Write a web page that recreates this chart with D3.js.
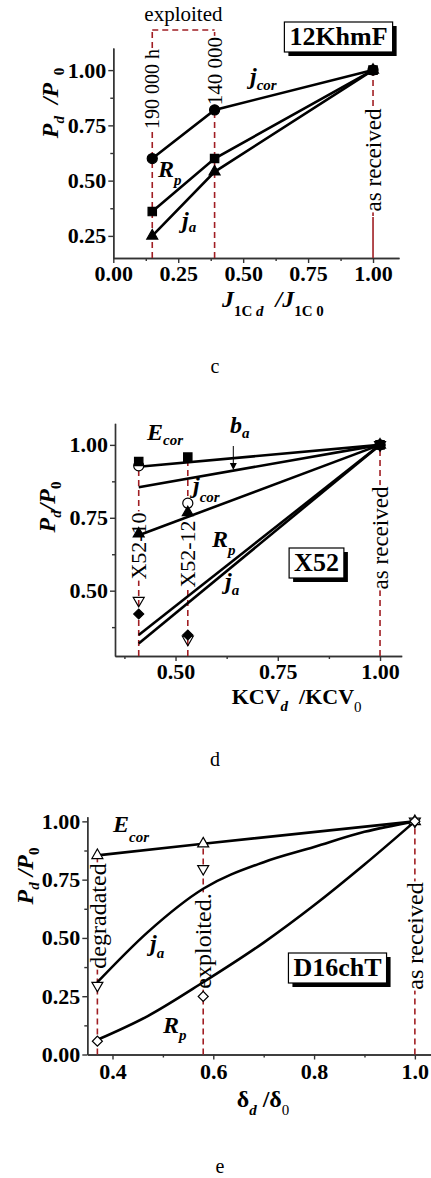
<!DOCTYPE html>
<html>
<head>
<meta charset="utf-8">
<script src="https://cdn.jsdelivr.net/npm/d3@7"></script>
<style>
  body { margin: 0; background: #fff; }
  text { white-space: pre; }
</style>
</head>
<body>
<svg id="chart" width="431" height="1178"></svg>
<script>
const serif = "'Liberation Serif','Times New Roman',serif";
const guideColor = "#a01e23";

// ---- panel c : 12KhmF ----
const cSamples = [0.15, 0.39, 1.00];
const cJcor = [0.60, 0.82, 1.00];
const cRp = [0.36, 0.60, 1.00];
const cJa = [0.25, 0.54, 1.00];
const cXTicks = [0, 0.25, 0.5, 0.75, 1.0];
const cXMinor = [0.125, 0.375, 0.625, 0.875];
const cYTicks = [0.25, 0.5, 0.75, 1.0];
const cYMinor = [0.375, 0.625, 0.875];
const cGuideText = ["190 000 h", "140 000", "as received"];

// ---- panel d : X52 ----
const dSamples = [0.41, 0.53, 1.00];
const dSquares = [0.943, 0.958, 1.00];
const dCircles = [0.928, 0.80, 1.00];
const dTriangles = [0.695, 0.768, 1.00];
const dDownTri = [0.466, 0.333, 1.00];
const dDiamonds = [0.42, 0.348, 1.00];
const dFitX = [0.41, 1.00];
const dFitEcor = [0.925, 1.00];
const dFitBa = [0.855, 1.00];
const dFitJcor = [0.69, 1.00];
const dFitRp = [0.348, 1.00];
const dFitJa = [0.319, 1.00];
const dXTicks = [0.5, 0.75, 1.0];
const dXMinor = [0.375, 0.625, 0.875];
const dYTicks = [0.5, 0.75, 1.0];
const dYMinor = [0.375, 0.625, 0.875];
const dGuideText = ["X52-10", "X52-12", "as received"];

// ---- panel e : D16chT ----
const eSamples = [0.37, 0.58, 1.00];
const eEcor = [0.854, 0.904, 1.00];
const eJa = [0.296, 0.797, 1.00];
const eRp = [0.057, 0.249, 1.00];
const eCurveX = [0.37, 0.47, 0.58, 0.70, 0.80, 0.90, 1.00];
const eJaCurve = [0.31, 0.525, 0.711, 0.825, 0.89, 0.955, 1.00];
const eRpCurve = [0.063, 0.165, 0.31, 0.48, 0.64, 0.815, 1.00];
const eXTicks = [0.4, 0.6, 0.8, 1.0];
const eXMinor = [0.5, 0.7, 0.9];
const eYTicks = [0, 0.25, 0.5, 0.75, 1.0];
const eYMinor = [0.125, 0.375, 0.625, 0.875];
const eGuideText = ["degradated", "exploited.", "as received"];

const svg = d3.select("#chart");

function makePanel(box, xDom, yDom, xt, xm, yt, ym, xFmt, yFmt, xPad) {
  const g = svg.append("g");
  const x = d3.scaleLinear().domain(xDom).range([box.left, box.right]);
  const y = d3.scaleLinear().domain(yDom).range([box.bottom, box.top]);
  const ax = g.append("g");
  ax.append("g").attr("transform", `translate(0,${box.bottom})`)
    .call(d3.axisBottom(x).tickValues(xm).tickSize(3).tickSizeOuter(0).tickFormat(""));
  ax.append("g").attr("transform", `translate(0,${box.bottom})`)
    .call(d3.axisBottom(x).tickValues(xt).tickSize(5).tickSizeOuter(0).tickPadding(xPad).tickFormat(d3.format(xFmt)));
  ax.append("g").attr("transform", `translate(${box.left},0)`)
    .call(d3.axisLeft(y).tickValues(ym).tickSize(3).tickSizeOuter(0).tickFormat(""));
  ax.append("g").attr("transform", `translate(${box.left},0)`)
    .call(d3.axisLeft(y).tickValues(yt).tickSize(5).tickSizeOuter(0).tickPadding(2).tickFormat(d3.format(yFmt)));
  ax.selectAll("path.domain, line").attr("stroke", "#333").attr("stroke-width", 1.4);
  ax.selectAll("text").attr("font-family", serif).attr("font-size", 22)
    .attr("font-weight", "bold").attr("fill", "#000");
  return { g, x, y, box };
}

function guide(p, xv, y0, y1, dashed) {
  p.g.append("line")
    .attr("x1", p.x(xv)).attr("x2", p.x(xv)).attr("y1", y0).attr("y2", y1)
    .attr("stroke", guideColor).attr("stroke-width", 1.6)
    .attr("stroke-dasharray", dashed === false ? null : "6,4");
}

function guideLabel(p, xv, cy, s, size) {
  const wrap = p.g.append("g").attr("transform", `translate(${p.x(xv)},${cy}) rotate(-90)`);
  const bg = wrap.append("rect").attr("fill", "#fff");
  const t = wrap.append("text").attr("text-anchor", "middle").attr("dy", "0.34em")
    .attr("font-family", serif).attr("font-size", size).attr("fill", "#000").text(s);
  const bb = t.node().getBBox();
  bg.attr("x", bb.x - 1).attr("width", bb.width + 2).attr("y", -4).attr("height", 8);
}

function series(p, xs, ys, curve) {
  p.g.append("path")
    .datum(xs.map((v, i) => [v, ys[i]]))
    .attr("d", d3.line().x(d => p.x(d[0])).y(d => p.y(d[1])).curve(curve || d3.curveLinear))
    .attr("fill", "none").attr("stroke", "#000").attr("stroke-width", 2.6);
}

const shapes = {
  circle: [d3.symbolCircle, 80, 0],
  square: [d3.symbolSquare, 70, 0],
  up: [d3.symbolTriangle, 52, 0],
  down: [d3.symbolTriangle, 52, 180],
  diamond: [d3.symbolSquare, 50, 45]
};

function dots(p, xs, ys, kind, fill) {
  const s = shapes[kind];
  p.g.append("g").selectAll("path")
    .data(xs.map((v, i) => [v, ys[i]]))
    .join("path")
    .attr("d", d3.symbol(s[0], s[1]))
    .attr("transform", d => `translate(${p.x(d[0])},${p.y(d[1])}) rotate(${s[2]})`)
    .attr("fill", fill).attr("stroke", "#000").attr("stroke-width", 1.2);
}

// parts: [text, size, style ("b","i"), baseline offset]
function rich(g, x, y, parts, anchor, rotated) {
  const t = g.append("text")
    .attr("transform", `translate(${x},${y})${rotated ? " rotate(-90)" : ""}`)
    .attr("text-anchor", anchor || "start").attr("font-family", serif).attr("fill", "#000");
  let cur = 0;
  parts.forEach(([s, size, style, off]) => {
    off = off || 0;
    t.append("tspan").attr("dy", off - cur).attr("font-size", size)
      .attr("font-weight", style.includes("b") ? "bold" : "normal")
      .attr("font-style", style.includes("i") ? "italic" : "normal")
      .text(s);
    cur = off;
  });
  return t;
}

function symLabel(g, x, y, main, sub, off) {
  rich(g, x, y, [[main, 24, "bi"], [sub, 15, "bi", off]]);
}

function boxLabel(g, cx, baseline, s) {
  const t = g.append("text").attr("x", cx).attr("y", baseline).attr("text-anchor", "middle")
    .attr("font-family", serif).attr("font-size", 26).attr("font-weight", "bold")
    .attr("fill", "#000").text(s);
  const bb = t.node().getBBox();
  g.insert("rect", () => t.node())
    .attr("x", bb.x - 5 + 4).attr("y", bb.y + 4).attr("width", bb.width + 10).attr("height", bb.height + 1)
    .attr("fill", "#000");
  g.insert("rect", () => t.node())
    .attr("x", bb.x - 5).attr("y", bb.y).attr("width", bb.width + 10).attr("height", bb.height + 1)
    .attr("fill", "#fff").attr("stroke", "#000").attr("stroke-width", 1.2);
}

function caption(x, y, s) {
  svg.append("text").attr("x", x).attr("y", y).attr("text-anchor", "middle")
    .attr("font-family", serif).attr("font-size", 20).text(s);
}

// ================= panel c =================
const pc = makePanel({ left: 113.3, right: 399, top: 48, bottom: 258 },
  [0, 1.1], [0.15, 1.1], cXTicks, cXMinor, cYTicks, cYMinor, ".2f", ".2f", 2);
{
  const top = pc.box.top - 18;
  guide(pc, cSamples[0], pc.box.bottom, top);
  guide(pc, cSamples[1], pc.box.bottom, top);
  pc.g.append("line")
    .attr("x1", pc.x(cSamples[0])).attr("x2", pc.x(cSamples[1])).attr("y1", top).attr("y2", top)
    .attr("stroke", guideColor).attr("stroke-width", 1.6).attr("stroke-dasharray", "6,4");
  guide(pc, cSamples[2], pc.y(1.0), pc.y(0.335));
  guide(pc, cSamples[2], pc.y(0.335), pc.box.bottom, false);
  pc.g.append("text").attr("x", (pc.x(cSamples[0]) + pc.x(cSamples[1])) / 2).attr("y", 21)
    .attr("text-anchor", "middle").attr("font-family", serif).attr("font-size", 21).text("exploited");
  guideLabel(pc, cSamples[0], 89, cGuideText[0], 20);
  guideLabel(pc, cSamples[1], 71, cGuideText[1], 21);
  guideLabel(pc, cSamples[2], 160, cGuideText[2], 23);

  series(pc, cSamples, cJcor);
  series(pc, cSamples, cRp);
  series(pc, cSamples, cJa);
  dots(pc, cSamples, cJcor, "circle", "#000");
  dots(pc, cSamples, cRp, "square", "#000");
  dots(pc, cSamples, cJa, "up", "#000");

  symLabel(pc.g, 250, 84, "j", "cor", 6);
  symLabel(pc.g, 158, 177, "R", "p", 8);
  symLabel(pc.g, 182, 228, "j", "a", 4);
  boxLabel(pc.g, 338.5, 45, "12KhmF");

  rich(pc.g, 58, 103, [["P", 24, "bi"], ["d", 15, "bi", 6], ["  /", 24, "bi"], ["P", 24, "bi"], ["  0", 15, "b", 6]], "middle", true);
  rich(pc.g, 222, 307, [["J", 24, "bi"], ["1C", 15, "b", 9], [" d", 15, "bi", 9], ["  /J", 24, "bi"], ["1C 0", 15, "b", 9]]);
  caption(215, 373, "c");
}

// ================= panel d =================
const pd = makePanel({ left: 115, right: 401.7, top: 423.3, bottom: 656 },
  [0.352, 1.053], [0.276, 1.074], dXTicks, dXMinor, dYTicks, dYMinor, ".2f", ".2f", 2);
{
  dSamples.forEach((s, i) => {
    const topVal = d3.max([dSquares[i], dCircles[i], dTriangles[i], dDownTri[i], dDiamonds[i]]);
    guide(pd, s, pd.box.bottom, pd.y(topVal));
  });
  guideLabel(pd, dSamples[0], 546, dGuideText[0], 22);
  guideLabel(pd, dSamples[1], 554, dGuideText[1], 22);
  guideLabel(pd, dSamples[2], 538, dGuideText[2], 23);

  series(pd, dFitX, dFitEcor);
  series(pd, dFitX, dFitBa);
  series(pd, dFitX, dFitJcor);
  series(pd, dFitX, dFitRp);
  series(pd, dFitX, dFitJa);

  dots(pd, dSamples, dDownTri, "down", "none");
  dots(pd, dSamples, dCircles, "circle", "#fff");
  dots(pd, dSamples, dSquares, "square", "#000");
  dots(pd, dSamples, dTriangles, "up", "#000");
  dots(pd, dSamples, dDiamonds, "diamond", "#000");

  symLabel(pd.g, 147, 440, "E", "cor", 5);
  symLabel(pd.g, 230, 433, "b", "a", 5);
  symLabel(pd.g, 193, 493, "j", "cor", 9);
  symLabel(pd.g, 212, 547, "R", "p", 8);
  symLabel(pd.g, 225, 589, "j", "a", 6);
  pd.g.append("line").attr("x1", 233.3).attr("x2", 233.3).attr("y1", 446).attr("y2", 466)
    .attr("stroke", "#000").attr("stroke-width", 1);
  pd.g.append("path").attr("d", "M229.8,463 L236.8,463 L233.3,470 Z").attr("fill", "#000");
  boxLabel(pd.g, 316.5, 571, "X52");

  rich(pd.g, 55, 507, [["P", 24, "bi"], ["d", 15, "bi", 6], ["/", 24, "bi"], ["P", 24, "bi"], ["0", 15, "b", 6]], "middle", true);
  rich(pd.g, 231.7, 704, [["KCV", 22, "b"], ["d", 15, "bi", 7], ["  /KCV", 22, "b"], ["0", 15, "", 8]]);
  caption(215, 766, "d");
}

// ================= panel e =================
const pe = makePanel({ left: 87.3, right: 431, top: 816.7, bottom: 1054.5 },
  [0.35, 1.032], [0, 1.02], eXTicks, eXMinor, eYTicks, eYMinor, ".1f", ".2f", 4);
{
  eSamples.forEach((s, i) => {
    guide(pe, s, pe.box.bottom, pe.y(d3.max([eEcor[i], eJa[i], eRp[i]])));
  });
  guideLabel(pe, eSamples[0], 916, eGuideText[0], 24);
  guideLabel(pe, eSamples[1], 941, eGuideText[1], 24);
  guideLabel(pe, eSamples[2], 936, eGuideText[2], 24);

  series(pe, eSamples, eEcor);
  series(pe, eCurveX, eJaCurve, d3.curveMonotoneX);
  series(pe, eCurveX, eRpCurve, d3.curveMonotoneX);

  dots(pe, eSamples, eEcor, "up", "#fff");
  dots(pe, eSamples, eJa, "down", "#fff");
  dots(pe, eSamples, eRp, "diamond", "#fff");

  symLabel(pe.g, 113, 832, "E", "cor", 10);
  symLabel(pe.g, 150, 951, "j", "a", 7);
  symLabel(pe.g, 163, 1033, "R", "p", 7);
  boxLabel(pe.g, 337.5, 976, "D16chT");

  rich(pe.g, 33, 876, [["P", 24, "bi"], ["d", 15, "bi", 6], [" /", 24, "bi"], ["P", 24, "bi"], ["0", 15, "b", 6]], "middle", true);
  rich(pe.g, 236.7, 1107, [["δ", 24, "b"], ["d", 15, "bi", 8], [" /δ", 24, "b"], ["0", 15, "", 8]]);
  caption(220, 1173, "e");
}
</script>
</body>
</html>
